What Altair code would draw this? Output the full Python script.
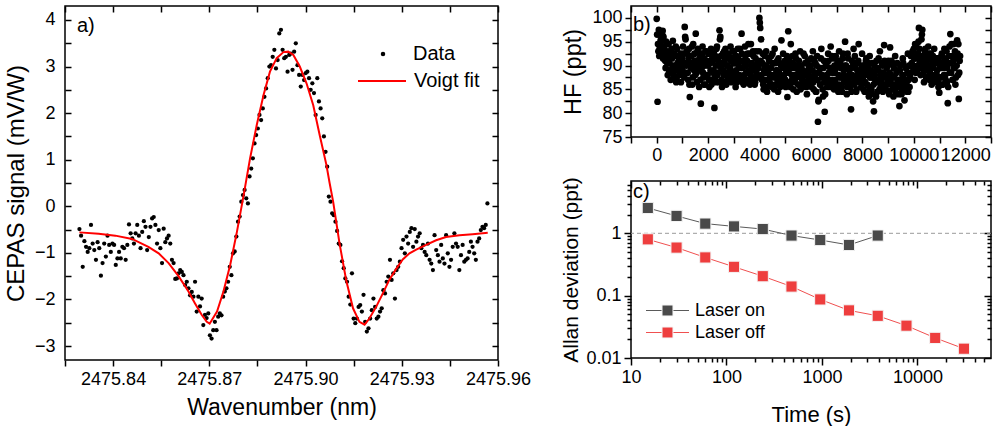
import altair as alt
import pandas as pd
import numpy as np

FONT = "Liberation Sans"

# ---------------- panel a: CEPAS spectrum ----------------
WN_FIRST = 2475.8295
WN_LAST = 2475.9567
CEPAS = [
    -0.49, -0.63, -1.30, -0.75, -0.87, -0.98, -0.90, -0.40, -0.80, -0.94,
    -1.15, -0.77, -0.90, -1.49, -1.22, -0.80, -1.08, -0.63, -0.83, -0.98,
    -0.80, -0.83, -1.26, -1.12, -0.98, -1.12, -0.87, -0.90, -1.15, -0.83,
    -0.39, -0.58, -0.69, -0.80, -0.58, -0.40, -0.63, -0.90, -0.55, -0.32,
    -0.44, -0.94, -0.66, -0.44, -0.26, -0.23, -0.40, -0.80, -0.51, -0.90,
    -1.22, -0.48, -0.77, -0.69, -0.63, -0.80, -1.15, -1.22, -1.56, -1.55,
    -1.44, -1.37, -1.41, -1.48, -1.69, -1.62, -1.76, -1.91, -1.84, -1.94,
    -1.62, -2.26, -1.94, -2.15, -1.98, -2.55, -2.33, -2.40, -2.30, -2.77,
    -2.84, -2.66, -2.48,
    -2.66, -2.37, -2.30, -2.34, -1.94, -1.83, -1.76, -1.62, -1.30, -1.48,
    -1.01, -0.97, -0.65, -0.33, -0.22, 0.10, 0.24, 0.35, 0.17, 0.06,
    0.64, 0.81, 1.03, 1.35, 1.53, 1.67, 1.96, 1.85, 2.10, 2.35,
    2.53, 2.75, 3.00, 3.03, 3.21, 3.36, 2.96, 3.14, 3.71, 3.79,
    3.36, 3.18, 3.21, 2.89, 3.25, 3.28, 2.93, 3.32, 3.50, 3.03,
    2.82, 2.57, 2.82, 2.71, 2.86, 2.89, 2.75, 2.50, 2.64, 2.43,
    1.96, 2.75, 2.25, 2.10, 1.89, 1.50, 1.17, 0.85,
    0.21, 0.10, -0.15, -0.19, -0.33, -0.53, -0.80, -0.83, -1.18, -1.33,
    -1.55, -1.62, -1.94, -2.11, -1.44, -2.41, -2.51, -2.41, -2.16, -2.12,
    -2.26, -1.90, -2.48, -2.69, -2.62, -2.41, -2.23, -1.98, -2.16, -2.41,
    -2.37, -2.26, -2.19, -1.80, -1.87, -1.62, -1.51, -1.15, -1.58, -1.44,
    -1.98, -1.37, -1.30, -1.19, -0.90, -0.72, -1.01, -0.65, -0.80, -0.55,
    -0.47, -0.87, -0.49, -0.76, -0.65, -0.58, -0.90, -0.83, -0.98, -1.05,
    -0.80, -1.15, -1.23, -1.37, -0.62, -0.94, -1.05, -1.19, -0.83, -1.12,
    -1.23, -0.62, -1.01, -1.30, -1.15, -0.87, -0.58, -0.80, -0.87, -1.37,
    -1.05, -0.83, -1.19, -1.15, -1.12, -0.98, -0.76, -0.87, -1.01, -1.15,
    -0.76, -0.69, -0.51, -0.44, -0.47, -0.40, 0.06,
]
FIT_WN = [
    2475.8295, 2475.8355, 2475.8407, 2475.8459, 2475.8510, 2475.8542, 2475.8573,
    2475.8604, 2475.8635, 2475.8655, 2475.8676, 2475.8692, 2475.8701, 2475.8724,
    2475.8744, 2475.8765, 2475.8786, 2475.8807, 2475.8827, 2475.8848, 2475.8869,
    2475.8889, 2475.8910, 2475.8931, 2475.8946, 2475.8962, 2475.8982, 2475.9003,
    2475.9024, 2475.9044, 2475.9065, 2475.9075, 2475.9086, 2475.9096, 2475.9106,
    2475.9127, 2475.9148, 2475.9168, 2475.9184, 2475.9199, 2475.9220, 2475.9241,
    2475.9261, 2475.9282, 2475.9303, 2475.9324, 2475.9345, 2475.9376, 2475.9407,
    2475.9438, 2475.9480, 2475.9521, 2475.9568,
]
FIT_V = [
    -0.56, -0.59, -0.63, -0.70, -0.87, -1.01, -1.22,
    -1.50, -1.83, -2.08, -2.33, -2.48, -2.52, -2.26,
    -1.83, -1.26, -0.55, 0.24, 1.03, 1.75, 2.39,
    2.89, 3.18, 3.31, 3.32, 3.25, 3.00, 2.64,
    2.17, 1.53, 0.89, 0.50, 0.10, -0.35, -0.80,
    -1.60, -2.19, -2.48, -2.54, -2.41, -2.16, -1.87,
    -1.58, -1.35, -1.14, -1.01, -0.93, -0.83, -0.73,
    -0.66, -0.62, -0.60, -0.57,
]
XA_TICKS = [2475.825, 2475.84, 2475.855, 2475.87, 2475.885, 2475.90,
            2475.915, 2475.93, 2475.945, 2475.96]
XA_LABELS = ["2475.84", "2475.87", "2475.90", "2475.93", "2475.96"]
YA_TICKS = [-3, -2.5, -2, -1.5, -1, -0.5, 0, 0.5, 1, 1.5, 2, 2.5, 3, 3.5, 4]

# ---------------- panel b: HF time series ----------------
T_STEP = 33
HF = [
    99.8, 82.4, 93.0, 92.0, 97.0, 95.5, 94.0, 97.3, 96.0, 93.5, 91.0, 95.0, 92.5, 88.0, 94.5,
    90.5, 93.0, 89.0, 91.5, 95.2, 87.5, 92.0, 90.0, 86.5, 93.5, 89.5, 91.0, 88.5, 92.5, 90.0,
    91.5, 94.0, 88.0, 98.1, 95.5, 90.0, 92.5, 87.0, 93.5, 83.4, 90.5, 92.0, 86.0, 94.5, 89.0,
    91.0, 96.7, 88.5, 93.0, 90.0, 85.5, 92.5, 82.0, 89.5, 94.0, 87.5, 91.5, 86.0, 93.0, 90.5,
    88.0, 92.5, 85.5, 90.5, 93.5, 87.0, 91.0, 89.0, 81.1, 92.0, 86.5, 94.0, 88.5, 90.0, 97.4,
    96.0, 89.5, 85.5, 92.5, 88.0, 91.0, 93.5, 86.0, 90.0, 87.5, 92.0, 89.0, 94.0, 86.5, 91.5,
    88.5, 93.0, 90.5, 85.5, 92.0, 88.0, 91.5, 87.0, 93.5, 89.5, 96.7, 86.5, 91.0, 88.0, 94.0,
    90.0, 87.0, 92.5, 94.5, 88.5, 86.0, 94.5, 90.5, 87.5, 92.0, 89.0, 86.5, 93.0, 88.0, 91.0,
    89.5, 100.0, 97.9, 95.5, 87.0, 92.5, 85.0, 90.0, 88.5, 93.0, 84.5, 89.0, 91.5, 86.5, 88.0,
    92.0, 85.5, 90.5, 87.5, 93.5, 86.0, 89.0, 91.0, 84.5, 88.5, 90.5, 87.0, 95.3, 86.0, 92.5,
    88.0, 91.0, 85.5, 89.5, 83.4, 97.2, 90.0, 86.5, 94.5, 88.0, 92.0, 85.0, 89.5, 87.0, 91.5,
    84.5, 90.0, 88.5, 86.0, 93.0, 87.5, 89.0, 85.5, 92.5, 88.0, 90.5, 86.5, 84.0, 91.0, 88.5,
    89.0, 86.5, 91.5, 87.5, 93.0, 85.0, 88.5, 90.5, 84.5, 92.0, 78.2, 82.8, 89.5, 86.0, 93.5,
    88.0, 83.5, 91.0, 80.3, 87.5, 90.0, 85.5, 92.5, 88.5, 86.0, 94.0, 89.0, 87.0, 91.5, 85.0,
    88.5, 92.0, 86.0, 90.5, 84.5, 93.0, 87.5, 89.5, 85.5, 91.5, 88.0, 86.5, 95.0, 90.0, 84.0,
    92.5, 87.0, 89.0, 85.5, 80.8, 91.0, 87.5, 93.5, 86.0, 89.5, 84.5, 90.5, 88.0, 94.5, 86.5,
    89.0, 85.5, 92.5, 87.0, 90.0, 84.5, 88.5, 91.5, 86.0, 89.5, 83.5, 92.0, 87.5, 85.0, 90.5,
    82.5, 80.4, 88.0, 86.5, 91.0, 84.5, 89.0, 87.0, 93.0, 85.5, 88.5, 90.0, 86.0, 94.3, 87.5,
    85.0, 89.5, 87.0, 91.0, 84.0, 93.8, 88.0, 86.0, 90.5, 83.5, 87.5, 92.0, 85.5, 89.0, 86.5,
    84.0, 81.5, 90.0, 87.0, 85.0, 91.5, 88.0, 82.7, 86.5, 89.5, 84.5, 92.5, 87.0, 85.5, 90.0,
    88.5, 92.0, 90.0, 93.5, 87.0, 91.5, 94.5, 89.0, 92.5, 97.9, 90.5, 88.0, 95.5, 97.5, 91.0,
    86.5, 93.0, 89.5, 92.0, 87.5, 94.0, 90.0, 88.5, 92.5, 86.0, 91.0, 89.5, 93.5, 87.0, 90.5,
    88.0, 91.5, 85.5, 84.3, 90.0, 87.5, 92.5, 86.0, 89.5, 93.5, 88.0, 91.0, 86.5, 82.1, 90.5,
    94.0, 96.6, 88.5, 92.0, 87.0, 94.5, 89.5, 86.0, 91.5, 95.3, 88.0, 83.0, 91.0,
]
# readings taken half a step later
HF_B = [
    96.5, 94.5, 97.5, 93.5, 95.0, 92.5, 96.5, 91.5, 94.0, 92.0, 89.5, 93.0, 90.5, 92.0, 89.0,
    91.5, 87.0, 93.5, 90.0, 88.5, 92.5, 89.0, 94.0, 87.5, 90.5, 92.0, 88.0, 90.5, 86.5, 91.0,
    89.0, 92.5, 87.5, 96.0, 90.5, 93.0, 88.5, 91.5, 86.0, 92.0, 89.5, 94.0, 87.5, 90.0, 92.5,
    88.0, 91.0, 86.5, 93.5, 89.0, 91.5, 87.0, 90.5, 92.5, 88.5, 86.0, 90.0, 93.0, 88.0, 91.0,
    90.0, 87.0, 93.0, 89.0, 86.0, 91.5, 88.5, 92.5, 87.5, 90.0, 93.5, 88.0, 91.0, 86.5, 95.5,
    92.0, 87.0, 90.5, 89.0, 93.0, 86.5, 91.5, 88.5, 90.0, 92.5, 87.0, 89.5, 91.0, 88.0, 93.0,
    90.5, 87.5, 92.0, 89.0, 86.5, 93.5, 90.0, 88.0, 91.0, 87.0, 92.5, 89.5, 86.0, 90.5, 92.0,
    88.5, 91.0, 86.5, 89.0, 92.5, 88.0, 90.0, 87.0, 93.0, 89.5, 86.0, 91.5, 88.5, 90.0, 87.5,
    93.0, 99.0, 91.0, 88.0, 90.5, 86.0, 89.0, 92.0, 87.0, 90.0, 85.5, 88.5, 91.0, 87.5, 89.5,
    86.0, 92.5, 88.0, 85.0, 90.5, 87.5, 89.0, 86.5, 91.5, 88.0, 85.5, 90.0, 87.0, 89.5, 86.5,
    90.0, 87.0, 89.0, 92.0, 86.0, 88.5, 91.0, 85.5, 89.5, 87.0, 90.5, 86.5, 88.0, 92.5, 87.5,
    89.5, 86.0, 91.0, 88.5, 85.0, 90.0, 87.0, 89.0, 86.5, 92.0, 88.0, 85.5, 90.5, 87.0, 89.5,
    87.5, 90.0, 85.5, 89.0, 86.5, 91.0, 88.0, 84.5, 90.0, 87.0, 82.5, 88.5, 86.0, 91.5, 87.5,
    85.0, 89.5, 86.5, 84.0, 90.0, 88.0, 86.0, 91.0, 87.0, 89.5, 85.5, 92.0, 88.5, 86.0, 90.0,
    87.0, 89.5, 85.5, 91.0, 88.0, 86.0, 90.5, 87.5, 84.5, 92.5, 89.0, 86.5, 90.0, 87.5, 85.5,
    91.5, 88.0, 86.0, 89.5, 84.5, 88.0, 90.5, 86.5, 92.0, 87.5, 85.0, 89.0, 91.0, 87.0, 88.5,
    86.5, 90.0, 87.5, 85.0, 89.5, 86.5, 91.0, 84.5, 88.0, 90.5, 85.5, 87.5, 89.0, 84.0, 88.5,
    86.0, 90.0, 87.0, 83.5, 89.5, 86.5, 91.5, 85.0, 88.0, 86.5, 90.5, 84.5, 88.5, 91.0, 86.0,
    88.0, 86.0, 90.0, 84.5, 88.5, 86.5, 91.0, 85.0, 87.5, 89.5, 86.0, 84.5, 88.5, 90.5, 87.0,
    85.5, 89.0, 86.5, 84.0, 88.0, 90.5, 85.5, 87.0, 89.5, 86.0, 88.5, 84.5, 90.0, 87.5, 92.0,
    90.5, 93.0, 89.0, 91.5, 94.5, 88.5, 92.0, 90.0, 95.0, 93.5, 89.5, 91.5, 96.5, 92.0, 88.5,
    90.5, 93.5, 87.5, 91.0, 89.0, 92.5, 87.0, 90.0, 91.5, 88.0, 92.0, 86.5, 90.5, 88.0, 91.5,
    89.0, 86.5, 91.0, 87.5, 89.5, 92.0, 86.0, 90.5, 88.0, 91.5, 87.0, 93.0, 89.5, 85.5, 92.0,
    88.5, 90.5, 94.5, 87.0, 91.0, 89.5, 93.0, 87.5, 90.0, 92.5, 94.5, 88.5, 92.0,
]
XB_TICKS = [-1000, 0, 1000, 2000, 3000, 4000, 5000, 6000, 7000, 8000, 9000,
            10000, 11000, 12000, 13000]
YB_TICKS = [75, 77.5, 80, 82.5, 85, 87.5, 90, 92.5, 95, 97.5, 100]

# ---------------- panel c: Allan deviation ----------------
TAU = [15, 30, 60, 120, 240, 480, 960, 1920, 3840, 7680, 15360, 30720]
LASER_ON = [2.55, 1.90, 1.43, 1.29, 1.17, 0.92, 0.78, 0.65, 0.92]
LASER_OFF = [0.80, 0.59, 0.41, 0.29, 0.205, 0.14, 0.087, 0.058, 0.0475, 0.033, 0.021, 0.0141]
SERIES = ["Laser on", "Laser off"]
SERIES_KEY = ["on", "off"]
XC_MAJOR = [10, 100, 1000, 10000]
XC_MINOR = [20, 30, 40, 50, 60, 70, 80, 90, 200, 300, 400, 500, 600, 700, 800, 900,
            2000, 3000, 4000, 5000, 6000, 7000, 8000, 9000, 20000, 30000, 40000, 50000]
YC_MAJOR = [0.01, 0.1, 1]
YC_MINOR = [0.02, 0.03, 0.04, 0.05, 0.06, 0.07, 0.08, 0.09,
            0.2, 0.3, 0.4, 0.5, 0.6, 0.7, 0.8, 0.9, 2, 3, 4, 5, 6]

GRAY = "#4a4a4a"
RED = "#ee3e3e"
# legend symbols: a long line and a square, drawn in a small nominal box
LINE_PATH = "M-2,0H2"
SQUARE_PATH = "M-0.51,-0.51H0.51V0.51H-0.51Z"


def axis(orient, values, ts, inward=False, labels=True, title=None,
         label_expr=None, fmt=None, label_pad=4, title_pad=4, title_size=22):
    kw = dict(orient=orient, values=values, tickSize=ts, domain=False, grid=False,
              labels=labels, ticks=True, tickWidth=1.5, tickColor="black")
    if inward:
        kw["offset"] = -ts
    if labels:
        kw.update(labelPadding=label_pad, labelFlush=False, labelOverlap=False,
                  labelFontSize=18, labelFont=FONT, labelColor="black")
        if label_expr:
            kw["labelExpr"] = label_expr
        if fmt:
            kw["format"] = fmt
    else:
        kw["minExtent"] = 0
    if title:
        kw.update(title=title, titlePadding=title_pad, titleFontSize=title_size,
                  titleFont=FONT, titleFontWeight="normal", titleColor="black")
    else:
        kw["title"] = None
    return alt.Axis(**kw)


def tag(text):
    return alt.Chart(pd.DataFrame({"t": [text]})).mark_text(
        align="left", baseline="middle", fontSize=20, font=FONT, color="black"
    ).encode(text="t:N")


# ---- panel a ----
df_a = pd.DataFrame({"wn": np.linspace(WN_FIRST, WN_LAST, len(CEPAS)),
                     "v": CEPAS, "s": "Data"})
df_fit = pd.DataFrame({"wn": FIT_WN, "v": FIT_V, "s": "Voigt fit"})
xa = alt.Scale(domain=[2475.825, 2475.96], nice=False, zero=False)
ya = alt.Scale(domain=[-3.3, 4.3], nice=False, zero=False)
lab_list = "[" + ",".join("'%s'" % s for s in XA_LABELS) + "]"
xa_expr = f"indexof({lab_list}, format(datum.value, '.2f')) >= 0 ? format(datum.value, '.2f') : ''"
ya_expr = "datum.value % 1 == 0 ? format(datum.value, 'd') : ''"

a_pts = alt.Chart(df_a).mark_circle(size=18, opacity=1).encode(
    x=alt.X("wn:Q", scale=xa, axis=axis("bottom", XA_TICKS, 6, title="Wavenumber (nm)",
                                        label_expr=xa_expr, label_pad=4, title_pad=8,
                                        title_size=23)),
    y=alt.Y("v:Q", scale=ya, axis=axis("left", YA_TICKS, 6, inward=True,
                                       title="CEPAS signal (mV/W)", label_expr=ya_expr,
                                       label_pad=10, title_pad=6, title_size=24)),
    fill=alt.Fill("s:N", scale=alt.Scale(domain=["Data"], range=["black"]),
                  legend=alt.Legend(orient="none", legendX=308, legendY=38, title=None,
                                    symbolType="circle", symbolSize=20, symbolStrokeWidth=0,
                                    labelFontSize=20, labelFont=FONT, labelColor="black",
                                    labelOffset=20, padding=0)),
)
a_fit = alt.Chart(df_fit).mark_line(strokeWidth=2).encode(
    x=alt.X("wn:Q", scale=xa, axis=axis("top", XA_TICKS, 6, inward=True, labels=False)),
    y=alt.Y("v:Q", scale=ya, axis=axis("right", YA_TICKS, 6, inward=True, labels=False)),
    stroke=alt.Stroke("s:N", scale=alt.Scale(domain=["Voigt fit"], range=["#ff0000"]),
                      legend=alt.Legend(orient="none", legendX=292, legendY=50, title=None,
                                        symbolType="stroke", symbolSize=2304,
                                        symbolStrokeWidth=2, labelFontSize=20,
                                        labelFont=FONT, labelColor="black",
                                        labelOffset=7, padding=0)),
)
a_tag = tag("a)").encode(x=alt.value(12), y=alt.value(20))
panel_a = alt.layer(a_pts, a_fit, a_tag).resolve_axis(
    x="independent", y="independent").properties(width=433, height=354)

# ---- panel b ----
df_b = pd.DataFrame({
    "t": [i * T_STEP for i in range(len(HF))] + [i * T_STEP + T_STEP / 2 for i in range(len(HF_B))],
    "hf": HF + HF_B,
})
xb = alt.Scale(domain=[-1000, 13000], nice=False, zero=False)
yb = alt.Scale(domain=[75, 102.5], nice=False, zero=False)
xb_expr = "datum.value >= 0 && datum.value <= 12000 && datum.value % 2000 == 0 ? format(datum.value, 'd') : ''"
yb_expr = "datum.value % 5 == 0 ? format(datum.value, 'd') : ''"
b_pts = alt.Chart(df_b).mark_circle(size=45, opacity=1, color="black").encode(
    x=alt.X("t:Q", scale=xb, axis=axis("bottom", XB_TICKS, 6, label_expr=xb_expr, label_pad=3)),
    y=alt.Y("hf:Q", scale=yb, axis=axis("left", YB_TICKS, 6, title="HF (ppt)",
                                        label_expr=yb_expr, label_pad=3, title_pad=6,
                                        title_size=23.5)),
)
b_frame = alt.Chart(df_b).mark_circle(opacity=0).encode(
    x=alt.X("t:Q", scale=xb, axis=axis("top", XB_TICKS, 6, inward=True, labels=False)),
    y=alt.Y("hf:Q", scale=yb, axis=axis("right", YB_TICKS, 6, inward=True, labels=False)),
)
b_tag = tag("b)").encode(x=alt.value(2), y=alt.value(19))
panel_b = alt.layer(b_pts, b_frame, b_tag).resolve_axis(
    x="independent", y="independent").properties(width=360, height=131)

# ---- panel c ----
rows = []
for tau, v in zip(TAU, LASER_ON):
    rows.append({"tau": tau, "sd": v, "series": SERIES[0], "key": SERIES_KEY[0]})
for tau, v in zip(TAU, LASER_OFF):
    rows.append({"tau": tau, "sd": v, "series": SERIES[1], "key": SERIES_KEY[1]})
df_c = pd.DataFrame(rows)
xc = alt.Scale(type="log", domain=[10, 59000], nice=False)
yc = alt.Scale(type="log", domain=[0.01, 6.9], nice=False)

LEG_C = dict(orient="none", legendX=25, legendY=118, title=None, symbolSize=462,
             labelFontSize=18, labelFont=FONT, labelColor="black", labelOffset=16,
             padding=0, rowPadding=1)

c_rule = alt.Chart(pd.DataFrame({"one": [1.0]})).mark_rule(
    color="#9a9a9a", strokeDash=[4, 3], strokeWidth=1).encode(
    y=alt.Y("one:Q", scale=yc, axis=None))
c_line = alt.Chart(df_c).mark_line(strokeWidth=1).encode(
    x=alt.X("tau:Q", scale=xc, axis=axis("bottom", XC_MAJOR, 7, title="Time (s)", fmt="d",
                                         label_pad=3, title_pad=18, title_size=22)),
    y=alt.Y("sd:Q", scale=yc, axis=axis("left", YC_MAJOR, 7, title="Allan deviation (ppt)",
                                        fmt="~g", label_pad=3, title_pad=4, title_size=21)),
    stroke=alt.Stroke("series:N", scale=alt.Scale(domain=SERIES, range=["#5a5a5a", "#f05050"]),
                      legend=alt.Legend(symbolType=LINE_PATH, symbolStrokeWidth=1, **LEG_C)),
)
c_pts = alt.Chart(df_c).mark_square(size=125, opacity=1, stroke="#f4f4f4", strokeWidth=1).encode(
    x=alt.X("tau:Q", scale=xc, axis=axis("top", XC_MAJOR, 7, inward=True, labels=False)),
    y=alt.Y("sd:Q", scale=yc, axis=axis("right", YC_MAJOR, 7, inward=True, labels=False)),
    fill=alt.Fill("key:N", scale=alt.Scale(domain=SERIES_KEY, range=[GRAY, RED]),
                  legend=alt.Legend(symbolType=SQUARE_PATH, symbolStrokeColor="#f4f4f4",
                                    symbolStrokeWidth=1, labelExpr="''", **LEG_C)),
)
c_minor1 = alt.Chart(df_c).mark_point(opacity=0).encode(
    x=alt.X("tau:Q", scale=xc, axis=axis("bottom", XC_MINOR, 4, labels=False)),
    y=alt.Y("sd:Q", scale=yc, axis=axis("left", YC_MINOR, 4, labels=False)),
)
c_minor2 = alt.Chart(df_c).mark_point(opacity=0).encode(
    x=alt.X("tau:Q", scale=xc, axis=axis("top", XC_MINOR, 4, inward=True, labels=False)),
    y=alt.Y("sd:Q", scale=yc, axis=axis("right", YC_MINOR, 4, inward=True, labels=False)),
)
c_tag = tag("c)").encode(x=alt.value(2), y=alt.value(11))
panel_c = alt.layer(c_rule, c_line, c_pts, c_minor1, c_minor2, c_tag).resolve_axis(
    x="independent", y="independent").properties(width=360, height=177)

right_col = alt.vconcat(panel_b, panel_c, spacing=10).resolve_scale(
    fill="independent", stroke="independent")

chart = alt.hconcat(
    panel_a,
    right_col,
    spacing=28,
).resolve_scale(
    fill="independent", stroke="independent"
).properties(
    padding={"left": 3, "top": 4, "right": 0, "bottom": 0}
).configure_view(
    stroke="black", strokeWidth=1.5
).configure_axis(
    labelFont=FONT, titleFont=FONT
)

chart.save("out.html", embed_options={"renderer": "svg", "actions": False})
